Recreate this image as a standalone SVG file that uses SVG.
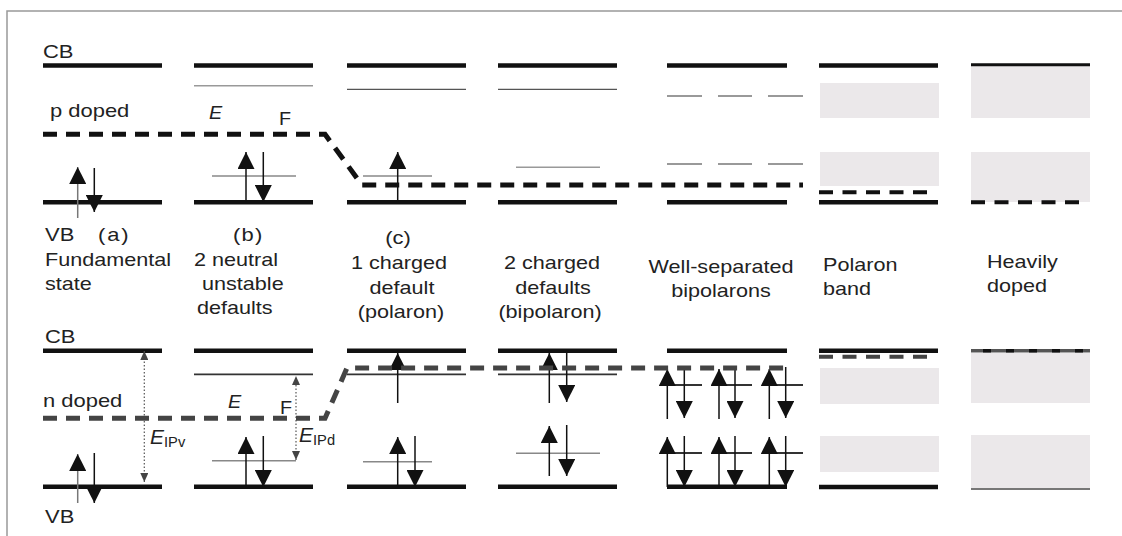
<svg xmlns="http://www.w3.org/2000/svg" width="1122" height="536" viewBox="0 0 1122 536">
<style>
text{font-family:"Liberation Sans",Arial,sans-serif;font-size:18px;fill:#222}
.it{font-style:italic}
.sub{font-size:14px}
.band{stroke:#111;stroke-width:4.5;fill:none}
.thin{stroke:#888;stroke-width:1.6;fill:none}
.thindk{stroke:#333;stroke-width:1.8;fill:none}
.stem{stroke:#111;stroke-width:1.5;fill:none;marker-end:url(#ah)}
.stemg{stroke:#777;stroke-width:1.5;fill:none;marker-end:url(#ah)}
.fermi{stroke:#111;stroke-width:5;stroke-dasharray:14 9;fill:none}
.fermig{stroke:#444;stroke-width:5;stroke-dasharray:14 9;fill:none}
.dash4{stroke:#111;stroke-width:4;stroke-dasharray:14 9.5;fill:none}
.dash4g{stroke:#444;stroke-width:4;stroke-dasharray:14 9.5;fill:none}
.shade{fill:#ebe8ea}
.dot{stroke:#555;stroke-width:1.2;stroke-dasharray:1.5 2;fill:none;marker-start:url(#sh);marker-end:url(#sh)}
</style>
<defs>
<marker id="ah" viewBox="0 0 17 17" refX="17" refY="8.5" markerWidth="17" markerHeight="17" markerUnits="userSpaceOnUse" orient="auto"><path d="M0,0 L17,8.5 L0,17z" fill="#111"/></marker>
<marker id="sh" viewBox="0 0 9 8" refX="9" refY="4" markerWidth="9" markerHeight="8" markerUnits="userSpaceOnUse" orient="auto-start-reverse"><path d="M0,0 L9,4 L0,8z" fill="#444"/></marker>
</defs>
<rect width="1122" height="536" fill="#fff"/>
<path d="M7,536 V11 H1122" stroke="#999" stroke-width="1.5" fill="none"/>

<!-- TOP PANEL (p doped) -->
<g id="top-a">
<line class="band" x1="43" y1="65.5" x2="162" y2="65.5"/>
<line class="band" x1="43" y1="202.3" x2="162" y2="202.3"/>
<line class="stemg" x1="77.7" y1="218" x2="77.7" y2="167"/>
<line class="stem" x1="94.3" y1="168" x2="94.3" y2="212"/>
<text transform="translate(43,58) scale(1.22,1)">CB</text>
<text transform="translate(50,117) scale(1.22,1)">p doped</text>
<text transform="translate(45,241) scale(1.22,1)">VB</text>
<text transform="translate(98,241) scale(1.22,1)" letter-spacing="1.5">(a)</text>
<text transform="translate(45,266) scale(1.2,1)">Fundamental</text>
<text transform="translate(45,290) scale(1.2,1)">state</text>
</g>
<g id="top-b">
<line class="band" x1="194" y1="65.5" x2="313" y2="65.5"/>
<line class="thin" x1="194" y1="85.7" x2="313" y2="85.7" style="stroke:#999"/>
<line class="band" x1="194" y1="202.3" x2="313" y2="202.3"/>
<line class="thin" x1="212" y1="176" x2="296" y2="176"/>
<line class="stem" x1="246" y1="202" x2="246" y2="152"/>
<line class="stem" x1="263.3" y1="152" x2="263.3" y2="202"/>
<text class="it" font-size="19" transform="translate(209,119) scale(1.1,1)">E</text>
<text font-size="19" transform="translate(279,125) scale(1.1,1)">F</text>
<text transform="translate(233,241) scale(1.22,1)" letter-spacing="1">(b)</text>
<text transform="translate(194,266) scale(1.2,1)">2 neutral</text>
<text transform="translate(202,290) scale(1.2,1)">unstable</text>
<text transform="translate(197,314) scale(1.2,1)">defaults</text>
</g>
<g id="top-c">
<line class="band" x1="347" y1="65.5" x2="466" y2="65.5"/>
<line class="thin" x1="347" y1="89.3" x2="466" y2="89.3" style="stroke:#555;stroke-width:1.3"/>
<line class="band" x1="347" y1="202.3" x2="466" y2="202.3"/>
<line class="thin" x1="363" y1="176" x2="432" y2="176"/>
<line class="stem" x1="397.7" y1="202" x2="397.7" y2="152"/>
<text text-anchor="middle" transform="translate(398,244) scale(1.22,1)">(c)</text>
<text text-anchor="middle" transform="translate(399,269) scale(1.2,1)">1 charged</text>
<text text-anchor="middle" transform="translate(402,294) scale(1.2,1)">default</text>
<text text-anchor="middle" transform="translate(401,318) scale(1.2,1)">(polaron)</text>
</g>
<g id="top-d">
<line class="band" x1="498" y1="65.5" x2="617" y2="65.5"/>
<line class="thin" x1="498" y1="89.3" x2="617" y2="89.3" style="stroke:#555;stroke-width:1.3"/>
<line class="band" x1="498" y1="202.3" x2="617" y2="202.3"/>
<line class="thin" x1="516" y1="167.3" x2="600" y2="167.3" style="stroke:#999"/>
<text text-anchor="middle" transform="translate(552,269) scale(1.2,1)">2 charged</text>
<text text-anchor="middle" transform="translate(553,294) scale(1.2,1)">defaults</text>
<text text-anchor="middle" transform="translate(550,318) scale(1.2,1)">(bipolaron)</text>
</g>
<g id="top-e">
<line class="band" x1="667" y1="65.5" x2="787" y2="65.5"/>
<path class="thin" d="M667,96H702M718,96H752M768,96H803M667,164H702M718,164H752M768,164H803" style="stroke:#999;stroke-width:2"/>
<line class="band" x1="667" y1="202.3" x2="787" y2="202.3"/>
<text text-anchor="middle" transform="translate(721,273) scale(1.2,1)">Well-separated</text>
<text text-anchor="middle" transform="translate(721,297) scale(1.2,1)">bipolarons</text>
</g>
<g id="top-f">
<rect class="shade" x="820" y="83" width="119" height="35"/>
<rect class="shade" x="820" y="152" width="119" height="34"/>
<line class="band" x1="819" y1="65.5" x2="938" y2="65.5"/>
<line class="dash4" x1="819" y1="192.3" x2="930" y2="192.3"/>
<line class="band" x1="819" y1="202.3" x2="938" y2="202.3"/>
<text transform="translate(823,271) scale(1.2,1)">Polaron</text>
<text transform="translate(823,295) scale(1.2,1)">band</text>
</g>
<g id="top-g">
<rect class="shade" x="971" y="66" width="119" height="52"/>
<rect class="shade" x="971" y="152" width="119" height="50"/>
<line x1="971" y1="64.8" x2="1090" y2="64.8" stroke="#111" stroke-width="3"/>
<line class="dash4" x1="971" y1="202.3" x2="1082" y2="202.3"/>
<text transform="translate(987,268) scale(1.2,1)">Heavily</text>
<text transform="translate(987,292) scale(1.2,1)">doped</text>
</g>

<!-- BOTTOM PANEL (n doped) -->
<g id="bottom-a">
<line class="band" x1="43" y1="350.7" x2="162" y2="350.7"/>
<line class="band" x1="43" y1="486.7" x2="162" y2="486.7"/>
<line class="stemg" x1="77.7" y1="503" x2="77.7" y2="454"/>
<line class="stem" x1="94.3" y1="453" x2="94.3" y2="503"/>
<line class="dot" x1="144.3" y1="482" x2="144.3" y2="351"/>
<text transform="translate(45,343) scale(1.22,1)">CB</text>
<text transform="translate(43,407) scale(1.22,1)">n doped</text>
<text transform="translate(45,523) scale(1.22,1)">VB</text>
<text transform="translate(150,444) scale(1.05,1)"><tspan class="it" font-size="20">E</tspan><tspan class="sub" dy="3">IPv</tspan></text>
</g>
<g id="bottom-b">
<line class="band" x1="194" y1="350.7" x2="313" y2="350.7"/>
<line class="thindk" x1="194" y1="374.3" x2="313" y2="374.3"/>
<line class="band" x1="194" y1="486.7" x2="313" y2="486.7"/>
<line class="thin" x1="212" y1="460.7" x2="296" y2="460.7"/>
<line class="stem" x1="246" y1="487" x2="246" y2="437"/>
<line class="stem" x1="263.3" y1="436" x2="263.3" y2="487"/>
<line class="dot" x1="296" y1="460" x2="296" y2="376"/>
<text class="it" font-size="19" transform="translate(228,408) scale(1.1,1)">E</text>
<text font-size="19" transform="translate(280,414) scale(1.1,1)">F</text>
<text transform="translate(299,442) scale(1.05,1)"><tspan class="it" font-size="20">E</tspan><tspan class="sub" dy="3">IPd</tspan></text>
</g>
<g id="bottom-c">
<line class="band" x1="347" y1="350.7" x2="466" y2="350.7"/>
<line class="thindk" x1="347" y1="374.3" x2="466" y2="374.3"/>
<line class="band" x1="347" y1="486.7" x2="466" y2="486.7"/>
<line class="thin" x1="363" y1="461.7" x2="432" y2="461.7"/>
<line class="stem" x1="397.7" y1="403" x2="397.7" y2="353"/>
<line class="stem" x1="397.7" y1="487" x2="397.7" y2="437"/>
<line class="stem" x1="415" y1="436" x2="415" y2="487"/>
</g>
<g id="bottom-d">
<line class="band" x1="498" y1="350.7" x2="617" y2="350.7"/>
<line class="thindk" x1="498" y1="374.3" x2="617" y2="374.3"/>
<line class="band" x1="498" y1="486.7" x2="617" y2="486.7"/>
<line class="thin" x1="516" y1="453.3" x2="600" y2="453.3"/>
<line class="stem" x1="549.3" y1="403" x2="549.3" y2="353"/>
<line class="stem" x1="566.7" y1="353" x2="566.7" y2="402"/>
<line class="stem" x1="549.3" y1="476" x2="549.3" y2="426"/>
<line class="stem" x1="566.7" y1="425" x2="566.7" y2="476"/>
</g>
<g id="bottom-e">
<line class="band" x1="667" y1="350.7" x2="787" y2="350.7"/>
<line class="band" x1="667" y1="486.7" x2="787" y2="486.7"/>
<path class="thindk" d="M667,385H702M719,385H752M769,385H803M667,453H702M719,453H752M769,453H803"/>
<line class="stem" x1="667.3" y1="419" x2="667.3" y2="369"/>
<line class="stem" x1="684.3" y1="367" x2="684.3" y2="418"/>
<line class="stem" x1="667.3" y1="487" x2="667.3" y2="437"/>
<line class="stem" x1="684.3" y1="436" x2="684.3" y2="487"/>
<line class="stem" x1="719" y1="419" x2="719" y2="369"/>
<line class="stem" x1="735" y1="367" x2="735" y2="418"/>
<line class="stem" x1="719" y1="487" x2="719" y2="437"/>
<line class="stem" x1="735" y1="436" x2="735" y2="487"/>
<line class="stem" x1="769.3" y1="419" x2="769.3" y2="369"/>
<line class="stem" x1="785.7" y1="367" x2="785.7" y2="418"/>
<line class="stem" x1="769.3" y1="487" x2="769.3" y2="437"/>
<line class="stem" x1="785.7" y1="436" x2="785.7" y2="487"/>
</g>
<g id="bottom-f">
<rect class="shade" x="820" y="368" width="119" height="36"/>
<rect class="shade" x="820" y="436" width="119" height="36"/>
<line class="band" x1="819" y1="350.7" x2="938" y2="350.7"/>
<line class="dash4g" x1="819" y1="356.7" x2="930" y2="356.7"/>
<line class="band" x1="819" y1="487" x2="938" y2="487"/>
</g>
<g id="bottom-g">
<rect class="shade" x="971" y="353" width="119" height="50"/>
<rect class="shade" x="971" y="435" width="119" height="54"/>
<line x1="971" y1="350.7" x2="1090" y2="350.7" stroke="#555" stroke-width="3.5"/>
<line x1="971" y1="350.7" x2="1090" y2="350.7" stroke="#111" stroke-width="3.5" stroke-dasharray="8 15" stroke-dashoffset="-12"/>
<line x1="971" y1="489" x2="1090" y2="489" stroke="#777" stroke-width="2"/>
</g>

<!-- Fermi level connectors -->
<g id="connectors">
<path class="fermi" d="M43,134.3 L325,134.3 L362,185 L803,185"/>
<path class="fermig" d="M43,418.3 L325,418.3 L347,368 L787,368"/>
</g>
</svg>
